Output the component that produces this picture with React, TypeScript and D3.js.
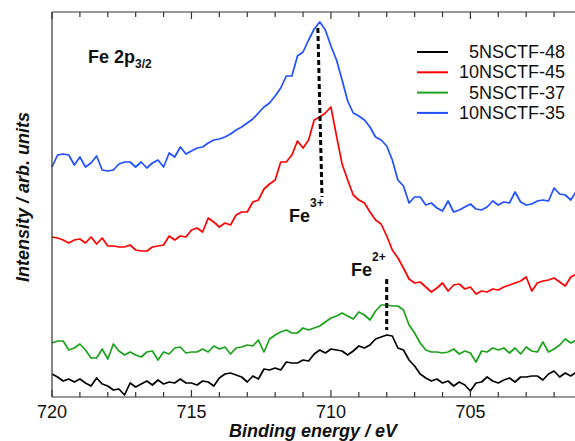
import React from 'react';
import * as d3 from 'd3';

// Fe 2p3/2 XPS spectra, sampled every 0.2 eV from 720 eV downwards
const energyStart = 720;
const energyStep = 0.2;

const series = ['5NSCTF-48', '10NSCTF-45', '5NSCTF-37', '10NSCTF-35'];
const colors = ['#000000', '#ff0000', '#1aa31a', '#1f4fff'];

const black48 = [
  26, 23, 19, 21, 18, 21, 17, 14, 22, 16,
  14, 10, 11, 5, 17, 13, 16, 19, 15, 20,
  16, 18, 17, 21, 17, 17, 15, 19, 18, 14,
  22, 26, 27, 25, 23, 18, 24, 21, 31, 30,
  32, 30, 38, 37, 37, 40, 39, 46, 50, 47,
  51, 50, 49, 45, 49, 54, 52, 55, 61, 63,
  65, 64, 52, 50, 40, 34, 26, 22, 19, 21,
  17, 19, 14, 18, 15, 9, 17, 18, 23, 19,
  17, 20, 22, 18, 23, 23, 24, 24, 20, 26,
  29, 23, 27, 24, 28,
];
const red45 = [
  163, 162, 160, 157, 160, 161, 157, 163, 156, 162,
  154, 154, 153, 153, 155, 150, 149, 149, 153, 154,
  155, 164, 160, 164, 163, 170, 172, 168, 182, 178,
  173, 177, 175, 185, 188, 188, 198, 200, 211, 216,
  220, 238, 238, 245, 259, 252, 260, 280, 283, 287,
  293, 264, 236, 220, 205, 200, 197, 188, 180, 176,
  164, 150, 142, 132, 121, 117, 118, 113, 108, 112,
  117, 109, 115, 116, 111, 113, 106, 109, 108, 111,
  110, 113, 115, 117, 119, 123, 109, 117, 119, 120,
  122, 118, 114, 123, 126,
];
const green37 = [
  57, 59, 59, 50, 52, 56, 50, 42, 42, 51,
  41, 56, 49, 45, 48, 45, 43, 48, 49, 40,
  48, 46, 52, 53, 47, 48, 48, 51, 48, 54,
  51, 53, 46, 52, 53, 55, 54, 60, 48, 61,
  65, 68, 70, 67, 67, 72, 70, 72, 74, 78,
  82, 84, 87, 84, 81, 88, 85, 80, 89, 95,
  95, 94, 94, 90, 75, 67, 57, 50, 48, 48,
  47, 48, 51, 46, 49, 47, 38, 49, 48, 52,
  50, 52, 47, 52, 46, 53, 49, 48, 58, 48,
  51, 55, 61, 57, 60,
];
const blue35 = [
  233, 245, 246, 245, 235, 243, 233, 237, 244, 230,
  229, 230, 236, 238, 238, 233, 238, 232, 237, 240,
  233, 247, 243, 253, 246, 249, 252, 253, 257, 260,
  261, 263, 266, 270, 273, 277, 281, 287, 293, 297,
  304, 312, 324, 324, 344, 348, 360, 371, 378, 370,
  354, 340, 320, 299, 287, 284, 280, 273, 263, 260,
  254, 240, 220, 214, 197, 203, 203, 195, 197, 192,
  189, 199, 188, 190, 193, 196, 191, 190, 193, 199,
  195, 198, 197, 208, 198, 195, 196, 199, 200, 199,
  212, 206, 205, 200, 209,
];
const allSeries = [black48, red45, green37, blue35];

const xTicks = [720, 715, 710, 705];

const W = 575;
const H = 441;
const left = 52;
const right = 575;
const top = 12;
const bottom = 397;

export default function App() {
  const x = d3.scaleLinear().domain([720, 701.25]).range([left, right]);
  const y = d3.scaleLinear().domain([3, 388]).range([bottom, top]);

  const line = d3
    .line<number>()
    .x((_, i) => x(energyStart - i * energyStep))
    .y((d) => y(d));

  const minor = d3.range(702, 721, 1);
  const font = 'Arial, "Liberation Sans", sans-serif';

  return (
    <svg
      width={W}
      height={H}
      style={{ position: 'absolute', left: 0, top: 0, background: '#fff' }}
      fontFamily={font}
    >
      {/* curves */}
      {allSeries.map((s, k) => (
        <path key={k} d={line(s) || ''} fill="none" stroke={colors[k]} strokeWidth={1.7} strokeLinejoin="round" />
      ))}

      {/* frame */}
      <line x1={left} x2={right} y1={top} y2={top} stroke="#333" strokeWidth={1.2} />
      <line x1={left} x2={right} y1={bottom} y2={bottom} stroke="#333" strokeWidth={1.2} />
      <line x1={left} x2={left} y1={top} y2={bottom} stroke="#333" strokeWidth={1.2} />

      {/* ticks, pointing inward */}
      {minor.map((e) => {
        const major = e % 5 === 0;
        const len = major ? 7 : 5;
        return (
          <g key={e}>
            <line x1={x(e)} x2={x(e)} y1={bottom} y2={bottom - len} stroke="#333" strokeWidth={1.2} />
            <line x1={x(e)} x2={x(e)} y1={top} y2={top + len} stroke="#333" strokeWidth={1.2} />
          </g>
        );
      })}
      {xTicks.map((t) => (
        <text key={t} x={x(t)} y={418} textAnchor="middle" fontSize={18} fill="#111">
          {t}
        </text>
      ))}

      {/* axis titles */}
      <text x={313} y={437} textAnchor="middle" fontSize={18} fontWeight="bold" fontStyle="italic" fill="#111">
        Binding energy / eV
      </text>
      <text
        transform="translate(29,197) rotate(-90)"
        textAnchor="middle"
        fontSize={18}
        fontWeight="bold"
        fontStyle="italic"
        fill="#111"
      >
        Intensity / arb. units
      </text>

      {/* panel title */}
      <text x={88} y={63} fontSize={18} fontWeight="bold" fill="#111">
        Fe 2p<tspan fontSize={12} dy={5}>3/2</tspan>
      </text>

      {/* Fe3+ / Fe2+ markers */}
      <line x1={x(710.47)} y1={y(372)} x2={x(710.32)} y2={y(203)} stroke="#000" strokeWidth={3} strokeDasharray="5,3" />
      <line x1={x(708.0)} y1={y(121)} x2={x(708.0)} y2={y(70)} stroke="#000" strokeWidth={3} strokeDasharray="5,3" />
      <text x={289} y={222} fontSize={18} fontWeight="bold" fill="#111">
        Fe<tspan fontSize={12} dy={-15}>3+</tspan>
      </text>
      <text x={351} y={276} fontSize={18} fontWeight="bold" fill="#111">
        Fe<tspan fontSize={12} dy={-15}>2+</tspan>
      </text>

      {/* legend */}
      {series.map((name, k) => {
        const ly = 52 + k * 20.3;
        return (
          <g key={name}>
            <line x1={417} x2={448} y1={ly} y2={ly} stroke={colors[k]} strokeWidth={2} />
            <text x={565} y={ly + 6} textAnchor="end" fontSize={18} fill="#111">
              {name}
            </text>
          </g>
        );
      })}
    </svg>
  );
}
